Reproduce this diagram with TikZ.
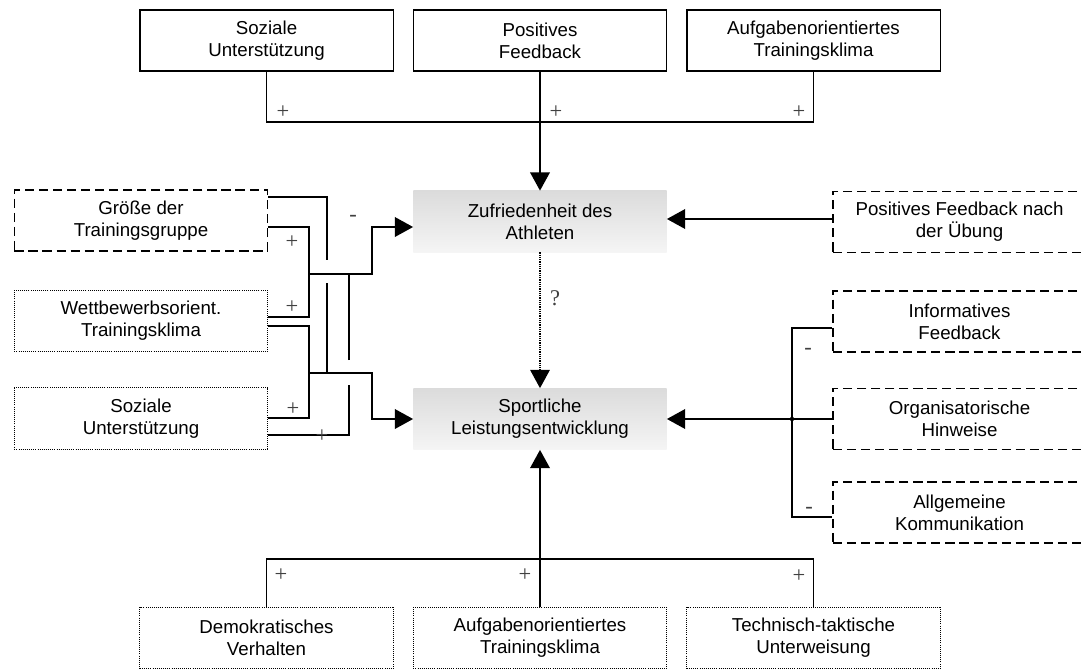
\documentclass[tikz,border=0pt]{standalone}
\usepackage{fontspec}
\setmainfont{Liberation Sans}
\newfontfamily\signfont{Liberation Serif}
\usetikzlibrary{arrows.meta}

\begin{document}
\begin{tikzpicture}[x=0.025cm, y=-0.025cm,
    box/.style={minimum width=6.33cm, minimum height=1.53cm, inner sep=0pt, align=center, font=\fontsize{13.3}{15.6}\selectfont},
    solidbox/.style={box, draw, line width=0.9pt},
    dashbox/.style={box, draw, line width=0.9pt, dash pattern=on 6.5pt off 3.5pt},
    dotbox/.style={box, draw, line width=0.7pt, dash pattern=on 0.7pt off 0.8pt},
    mainbox/.style={box, top color=black!14, bottom color=black!4},
    link/.style={line width=1.1pt},
    arrow/.style={link, -{Triangle[length=13pt, width=14pt]}},
    dotline/.style={line width=0.8pt, dash pattern=on 0.8pt off 0.8pt},
    sign/.style={font=\signfont\fontsize{16}{16}\selectfont, text=black!75, inner sep=0pt}]
  \useasboundingbox (0,0) rectangle (1082,670);
  \clip (0,0) rectangle (1082,670);

  \node[solidbox] (su) at (266.5,40.5) {Soziale\\Unterstützung};
  \node[solidbox] (pf) at (540,40.5) {Positives\\Feedback};
  \node[solidbox] (atk) at (813.5,40.5) {Aufgabenorientiertes\\Trainingsklima};

  \node[mainbox] (zu) at (540,221.5) {Zufriedenheit des\\Athleten};
  \node[mainbox] (sp) at (540,419) {Sportliche\\Leistungsentwicklung};

  \node[dashbox] (gt) at (141,220.5) {Größe der\\Trainingsgruppe};
  \node[dotbox] (wt) at (141,321) {Wettbewerbsorient.\\Trainingsklima};
  \node[dotbox] (sl) at (141,418.5) {Soziale\\Unterstützung};

  \node[dashbox] (pn) at (959.5,222) {Positives Feedback nach\\der Übung};
  \node[dashbox] (inf) at (959.5,321.5) {Informatives\\Feedback};
  \node[dashbox] (org) at (959.5,419) {Organisatorische\\Hinweise};
  \node[dashbox] (al) at (959.5,512.5) {Allgemeine\\Kommunikation};

  \node[dotbox] (dv) at (266.5,638) {Demokratisches\\Verhalten};
  \node[dotbox] (ab) at (540,638) {Aufgabenorientiertes\\Trainingsklima};
  \node[dotbox] (tt) at (813.5,638) {Technisch-taktische\\Unterweisung};

  \coordinate (top) at (540,122);
  \coordinate (bot) at (540,559);
  \coordinate (ja) at (309,274);
  \coordinate (jb) at (309,373);
  \coordinate (jr) at (792,419);

  \draw[link] (su) |- (top) -| (atk);
  \draw[arrow] (pf) -- (zu);
  \draw[link] (dv) |- (bot) -| (tt);
  \draw[arrow] (ab) -- (sp);
  \draw[arrow, dotline] (zu) -- (sp);

  \draw[arrow] (pn.west |- 0,219) -- (zu.east |- 0,219);
  \draw[link] (inf.west |- 0,328) -| (jr) |- (al.west |- 0,517);
  \fill (jr) circle (2.2);
  \draw[arrow] (org) -- (sp);

  \draw[link] (gt.east |- 0,227) -| (ja) |- (wt.east |- 0,317);
  \draw[arrow] (ja) -- (372,274) |- (zu.west |- 0,227);
  \draw[link] (wt.east |- 0,326) -| (jb) |- (sl.east |- 0,418);
  \draw[arrow] (jb) -- (372,373) |- (sp);
  \draw[link] (gt.east |- 0,197) -| (327,260);
  \draw[link] (327,283) -- (327,373);
  \draw[link] (sl.east |- 0,435) -| (349,385);
  \draw[link] (349,360) -- (349,274);

  \foreach \x/\y/\s [count=\i] in {283/112/+, 556/112/+, 799/112/+,
      353/218/-, 292/242/+, 292/307/+, 293/409/+, 322/436/+,
      555/298/?, 808/351/-, 809/510/-,
      281/575/+, 525/575/+, 799/576/+}
    \node[sign] (s\i) at (\x,\y) {\s};
\end{tikzpicture}
\end{document}
